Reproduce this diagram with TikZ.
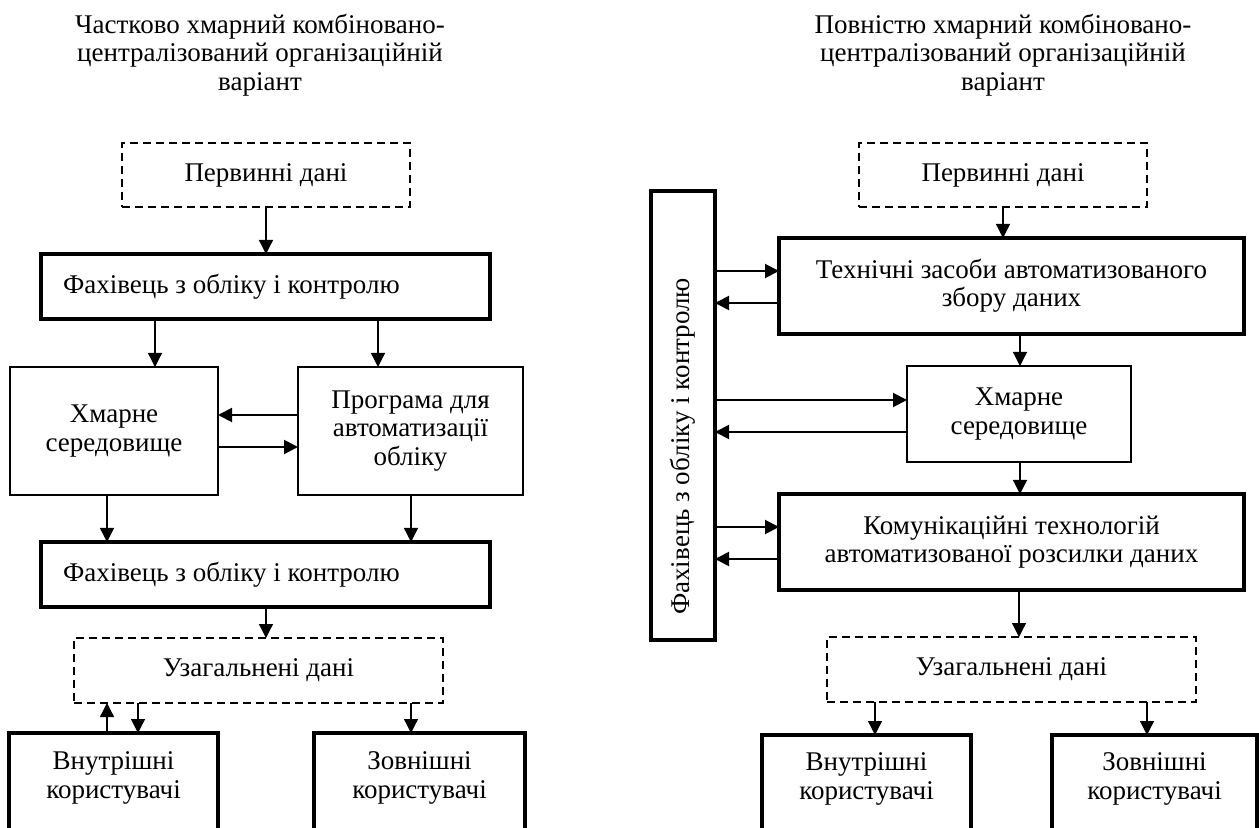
\documentclass[tikz,border=0pt]{standalone}
\usepackage{fontspec}
\setmainfont{Liberation Serif}
\usetikzlibrary{arrows.meta}
\begin{document}
\begin{tikzpicture}[x=0.5pt,y=-0.5pt,
  every node/.style={font=\fontsize{13.5pt}{14.25pt}\selectfont, inner sep=0pt, outer sep=0pt},
  thickbox/.style={draw, line width=1.65pt, rectangle},
  thinbox/.style={draw, line width=0.65pt, rectangle},
  dashbox/.style={draw, line width=0.65pt, dash pattern=on 4pt off 2.5pt, rectangle},
  varr/.style={line width=0.65pt, -{Triangle[length=7pt,width=7pt]}},
  harr/.style={line width=1pt, -{Triangle[length=7pt,width=7pt]}},
  lbl/.style={align=center},
]
\useasboundingbox (0,0) rectangle (1259,828);
\clip (0,0) rectangle (1259,828);

% ---------- left ----------
\node[lbl, anchor=north] (T1) at (260,14) {Частково хмарний комбіновано-\\централізований організаційній\\варіант};
\node[dashbox, minimum width=144pt, minimum height=32pt] (P1) at (266,175) {Первинні дані};
\node[thickbox, minimum width=224.5pt, minimum height=32.5pt] (F1) at (265.5,286.5) {};
\node[anchor=west] (F1t) at ([xshift=11pt]F1.west) {Фахівець з обліку і контролю};
\node[thinbox, lbl, minimum width=104pt, minimum height=64pt] (H1) at (114,431) {Хмарне\\середовище};
\node[thinbox, lbl, minimum width=112.5pt, minimum height=64pt] (Pr1) at (410.5,431) {Програма для\\автоматизації\\обліку};
\node[thickbox, minimum width=224.5pt, minimum height=32.5pt] (F2) at (265.5,574.5) {};
\node[anchor=west] (F2t) at ([xshift=11pt]F2.west) {Фахівець з обліку і контролю};
\node[dashbox, minimum width=184.5pt, minimum height=32.5pt] (U1) at (258.5,670.5) {Узагальнені дані};
\node[thickbox, minimum width=104.5pt, minimum height=73.5pt] (Vn1) at (113.5,806.5) {};
\node[lbl, anchor=north] (Vn1t) at ([yshift=-9.5pt]Vn1.north) {Внутрішні\\користувачі};
\node[thickbox, minimum width=105.5pt, minimum height=73.5pt] (Zv1) at (419.5,806.5) {};
\node[lbl, anchor=north] (Zv1t) at ([yshift=-9.5pt]Zv1.north) {Зовнішні\\користувачі};

\draw[varr] (P1.south) -- (P1.south |- F1.north);
\draw[varr] ([xshift=-55.25pt]F1.south) -- ([xshift=20.5pt]H1.north);
\draw[varr] ([xshift=56.25pt]F1.south) -- ([xshift=-16.25pt]Pr1.north);
\draw[harr] ([yshift=8pt]Pr1.west) -- ([yshift=8pt]H1.east);
\draw[harr] ([yshift=-8pt]H1.east) -- ([yshift=-8pt]Pr1.west);
\draw[varr] ([xshift=-3.5pt]H1.south) -- ([xshift=-79.25pt]F2.north);
\draw[varr] ([xshift=0.25pt]Pr1.south) -- ([xshift=72.75pt]F2.north);
\draw[varr] ([xshift=0.25pt]F2.south) -- ([xshift=3.75pt]U1.north);
\draw[varr] ([xshift=-3.25pt]Vn1.north) -- ([xshift=-75.75pt]U1.south);
\draw[varr] ([xshift=-60.25pt]U1.south) -- ([xshift=12.25pt]Vn1.north);
\draw[varr] ([xshift=76.25pt]U1.south) -- ([xshift=-4.25pt]Zv1.north);

% ---------- right ----------
\node[lbl, anchor=north] (T2) at (1003,14) {Повністю хмарний комбіновано-\\централізований організаційній\\варіант};
\node[dashbox, minimum width=144pt, minimum height=32pt] (P2) at (1003,175) {Первинні дані};
\node[thickbox, lbl, minimum width=232.5pt, minimum height=48pt] (T) at (1011.5,286) {Технічні засоби автоматизованого\\збору даних};
\node[thickbox, minimum width=32pt, minimum height=224.5pt] (V) at (683,415.5) {};
\node[rotate=90] (Vt) at ([yshift=-15.5pt]V.center) {Фахівець з обліку і контролю};
\node[thinbox, lbl, minimum width=112pt, minimum height=48pt] (X2) at (1019,414) {Хмарне\\середовище};
\node[thickbox, lbl, minimum width=232.5pt, minimum height=48pt] (K) at (1011.5,542) {Комунікаційні технологій\\автоматизованої розсилки даних};
\node[dashbox, minimum width=184.5pt, minimum height=32.5pt] (U2) at (1011.5,669.5) {Узагальнені дані};
\node[thickbox, minimum width=104.5pt, minimum height=72.5pt] (Vn2) at (866.5,807.5) {};
\node[lbl, anchor=north] (Vn2t) at ([yshift=-9pt]Vn2.north) {Внутрішні\\користувачі};
\node[thickbox, minimum width=102.5pt, minimum height=72.5pt] (Zv2) at (1154.5,807.5) {};
\node[lbl, anchor=north] (Zv2t) at ([yshift=-9pt]Zv2.north) {Зовнішні\\користувачі};

\draw[varr] (P2.south) -- ([xshift=-4.25pt]T.north);
\draw[harr] ([yshift=72.25pt]V.east) -- ([yshift=7.5pt]T.west);
\draw[harr] ([yshift=-8.5pt]T.west) -- ([yshift=56.25pt]V.east);
\draw[varr] ([xshift=4.25pt]T.south) -- ([xshift=0.5pt]X2.north);
\draw[harr] ([yshift=7.75pt]V.east) -- ([yshift=7pt]X2.west);
\draw[harr] ([yshift=-9pt]X2.west) -- ([yshift=-8.25pt]V.east);
\draw[varr] ([xshift=0.5pt]X2.south) -- ([xshift=4.25pt]K.north);
\draw[harr] ([yshift=-55.75pt]V.east) -- ([yshift=7.5pt]K.west);
\draw[harr] ([yshift=-8.5pt]K.west) -- ([yshift=-71.75pt]V.east);
\draw[varr] ([xshift=3.75pt]K.south) -- ([xshift=3.75pt]U2.north);
\draw[varr] ([xshift=-68.25pt]U2.south) -- ([xshift=4.25pt]Vn2.north);
\draw[varr] ([xshift=67.75pt]U2.south) -- ([xshift=-3.75pt]Zv2.north);
\end{tikzpicture}
\end{document}
